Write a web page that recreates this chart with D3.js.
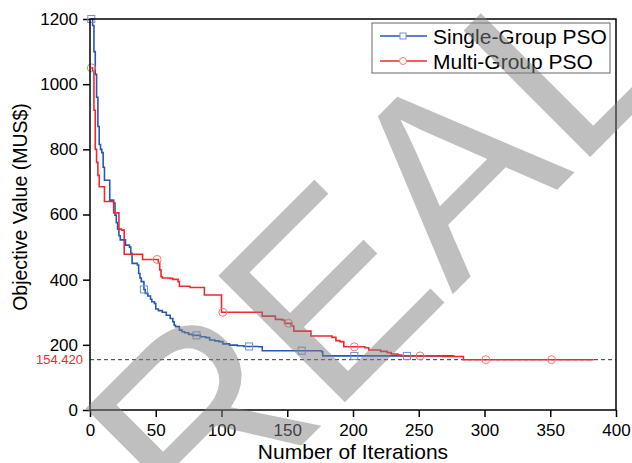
<!DOCTYPE html>
<html>
<head>
<meta charset="utf-8">
<script src="https://cdn.jsdelivr.net/npm/d3@7"></script>
<style>
  body { margin: 0; background: #fff; }
  text { font-family: "Liberation Sans", Arial, sans-serif; }
</style>
</head>
<body>
<div id="chart"></div>
<script>
// convergence curves (iteration where value changes, new value)
var singleIter = [1, 2, 3, 4, 5, 6, 7, 8, 9, 10, 11, 15, 18, 19, 20, 21, 22, 23, 27, 30,
    31, 32, 36, 37, 38, 39, 41, 42, 44, 46, 47, 49, 50, 52, 55, 58, 61, 63, 64, 65,
    68, 70, 72, 75, 78, 84, 88, 91, 95, 98, 101, 106, 112, 117, 128, 131, 176, 177, 277];
var singleVal = [1200, 1180, 1100, 1030, 960, 870, 815, 800, 790, 745, 705, 644, 635, 598, 575, 555, 535, 522, 506, 500,
    481, 450, 445, 419, 405, 394, 370, 358, 350, 340, 332, 327, 310, 305, 300, 291, 281, 271, 260, 256,
    245, 240, 237, 232, 229, 225, 222, 215, 212, 210, 203, 199, 197, 195, 194, 182, 179, 166, 166];

var multiIter = [1, 2, 3, 4, 5, 6, 7, 11, 18, 22, 24, 26, 40, 52, 53, 54, 55, 61, 63, 67,
    68, 76, 87, 100, 131, 141, 146, 148, 153, 155, 168, 184, 187, 190, 193, 209, 212, 221, 226, 229,
    234, 237, 268, 284, 383];
var multiVal = [1050, 1040, 920, 800, 760, 720, 685, 640, 605, 555, 552, 478, 462, 452, 430, 409, 405, 404, 401, 394,
    380, 376, 353, 300, 288, 278, 276, 266, 258, 242, 227, 223, 213, 210, 194, 191, 184, 180, 176, 172,
    169, 166, 164, 154.42, 154.42];

var bestValue = 154.42;
var seriesNames = ['Single-Group PSO', 'Multi-Group PSO'];
var xTicks = [0, 50, 100, 150, 200, 250, 300, 350, 400];
var yTicks = [0, 200, 400, 600, 800, 1000, 1200];
var singleMarkEvery = 40;
var multiMarkEvery = 50;

var width = 632, height = 463;
var plot = {left: 90, top: 19, right: 616, bottom: 410};
var blue = '#2458b6', red = '#f0282f';
var font = '"Liberation Sans", Arial, sans-serif';

var svg = d3.select('#chart').append('svg')
    .attr('width', width)
    .attr('height', height);

var x = d3.scaleLinear().domain([0, 400]).range([plot.left, plot.right]);
var y = d3.scaleLinear().domain([0, 1200]).range([plot.bottom, plot.top]);

function toPoints(iters, vals) {
    return iters.map(function(d, i) { return {it: d, v: vals[i]}; });
}
// value at a given iteration (last change point at or before it)
function valueAt(pts, it) {
    var v = pts[0].v;
    pts.forEach(function(p) { if (p.it <= it) v = p.v; });
    return v;
}

var single = toPoints(singleIter, singleVal);
var multi = toPoints(multiIter, multiVal);

// axes
var yAxis = svg.append('g')
    .attr('transform', 'translate(' + plot.left + ',0)')
    .call(d3.axisLeft(y).tickValues(yTicks).tickFormat(d3.format('d')).tickSize(7).tickPadding(5));
var xAxis = svg.append('g')
    .attr('transform', 'translate(0,' + plot.bottom + ')')
    .call(d3.axisBottom(x).tickValues(xTicks).tickFormat(d3.format('d')).tickSize(7).tickPadding(7));

[xAxis, yAxis].forEach(function(a) {
    a.attr('font-family', font).attr('font-size', 17);
    a.select('.domain').remove();
    a.selectAll('line').attr('stroke', '#000').attr('stroke-width', 1.5);
    a.selectAll('text').attr('fill', '#000');
});

// best value reference line
svg.append('line')
    .attr('x1', plot.left).attr('x2', plot.right)
    .attr('y1', y(bestValue)).attr('y2', y(bestValue))
    .attr('stroke', '#333')
    .attr('stroke-width', 1)
    .attr('stroke-dasharray', '4,3');
svg.append('text')
    .attr('x', 83)
    .attr('y', y(bestValue) + 4.5)
    .attr('text-anchor', 'end')
    .attr('fill', red)
    .style('font-size', '13px')
    .text(bestValue.toFixed(3));

var line = d3.line()
    .x(function(d) { return x(d.it); })
    .y(function(d) { return y(d.v); })
    .curve(d3.curveStepAfter);

svg.append('path')
    .datum(single)
    .attr('fill', 'none')
    .attr('stroke', blue)
    .attr('stroke-width', 1.6)
    .attr('d', line);
svg.append('path')
    .datum(multi)
    .attr('fill', 'none')
    .attr('stroke', red)
    .attr('stroke-width', 1.6)
    .attr('d', line);

// markers
var singleMarks = d3.range(1, singleIter[singleIter.length - 1] + 1, singleMarkEvery);
var multiMarks = d3.range(1, multiIter[multiIter.length - 1] + 1, multiMarkEvery);

svg.selectAll('.sq')
    .data(singleMarks)
    .enter().append('rect')
        .attr('class', 'sq')
        .attr('x', function(d) { return x(d) - 3.5; })
        .attr('y', function(d) { return y(valueAt(single, d)) - 3.5; })
        .attr('width', 7).attr('height', 7)
        .attr('fill', 'none')
        .attr('stroke', '#6f90d4')
        .attr('stroke-width', 1);
svg.selectAll('.ci')
    .data(multiMarks)
    .enter().append('circle')
        .attr('class', 'ci')
        .attr('cx', function(d) { return x(d); })
        .attr('cy', function(d) { return y(valueAt(multi, d)); })
        .attr('r', 4)
        .attr('fill', 'none')
        .attr('stroke', '#f47a7a')
        .attr('stroke-width', 1);

// frame
svg.append('rect')
    .attr('x', plot.left).attr('y', plot.top)
    .attr('width', plot.right - plot.left)
    .attr('height', plot.bottom - plot.top)
    .attr('fill', 'none')
    .attr('stroke', '#000')
    .attr('stroke-width', 1.5);

// axis titles
svg.append('text')
    .attr('x', (plot.left + plot.right) / 2)
    .attr('y', 459)
    .attr('text-anchor', 'middle')
    .style('font-size', '21px')
    .text('Number of Iterations');
svg.append('text')
    .attr('transform', 'translate(27,207) rotate(-90)')
    .attr('text-anchor', 'middle')
    .style('font-size', '19.5px')
    .text('Objective Value (MUS$)');

// legend
var legend = svg.append('g').attr('transform', 'translate(372,23)');
legend.append('rect')
    .attr('width', 238).attr('height', 50)
    .attr('fill', '#fff')
    .attr('stroke', '#666')
    .attr('stroke-width', 1);
var rows = legend.selectAll('.row')
    .data(seriesNames)
    .enter().append('g')
        .attr('transform', function(d, i) { return 'translate(0,' + (13 + i * 25) + ')'; });
rows.append('line')
    .attr('x1', 8).attr('x2', 55)
    .attr('stroke', function(d, i) { return i ? red : blue; })
    .attr('stroke-width', 1.6);
rows.filter(function(d, i) { return i == 0; }).append('rect')
    .attr('x', 28).attr('y', -3).attr('width', 6).attr('height', 6)
    .attr('fill', '#fff').attr('stroke', '#6f90d4');
rows.filter(function(d, i) { return i == 1; }).append('circle')
    .attr('cx', 31).attr('r', 3.5)
    .attr('fill', '#fff').attr('stroke', '#f47a7a');
rows.append('text')
    .attr('x', 61)
    .attr('y', 7.5)
    .style('font-size', '21px')
    .text(function(d) { return d; });

// watermark over everything
svg.append('text')
    .attr('transform', 'translate(197,550) rotate(-45)')
    .attr('fill', '#808080')
    .attr('fill-opacity', 0.5)
    .style('font-size', '260px')
    .text('REAL');
</script>
</body>
</html>
